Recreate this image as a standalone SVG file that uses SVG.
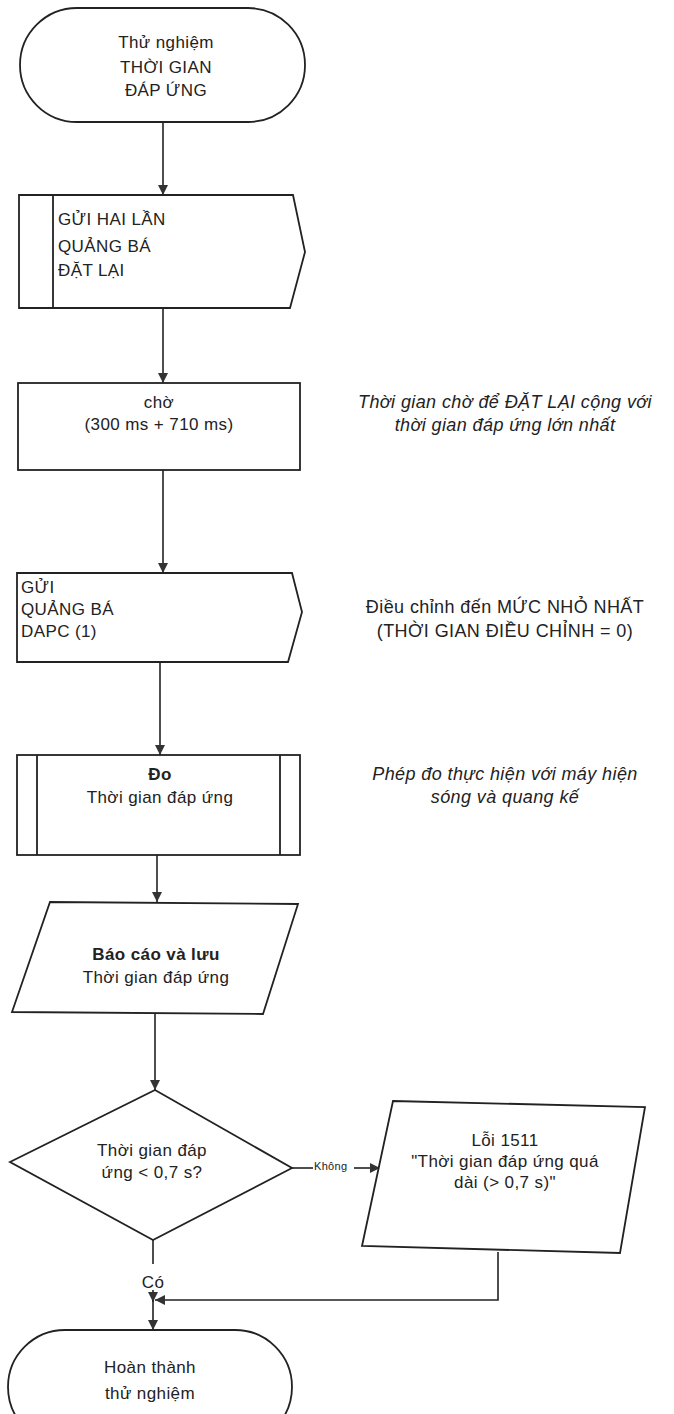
<svg xmlns="http://www.w3.org/2000/svg" width="674" height="1414" viewBox="0 0 674 1414">
<defs>
<marker id="arr" viewBox="0 0 10 10" refX="10" refY="5" markerWidth="10" markerHeight="10" markerUnits="userSpaceOnUse" orient="auto">
<path d="M0,0 L10,5 L0,10 Z" fill="#333"/>
</marker>
<style>
.s{fill:#fff;stroke:#222;stroke-width:1.8}
.l{fill:none;stroke:#222;stroke-width:1.8}
.c{fill:none;stroke:#222;stroke-width:1.6}
.t{font-family:"Liberation Sans",Arial,sans-serif;font-size:17px;fill:#222;letter-spacing:0.4px}
.m{text-anchor:middle}
.a{font-family:"Liberation Sans",Arial,sans-serif;font-size:18px;fill:#222;text-anchor:middle;letter-spacing:0.4px}
.i{font-style:italic}
.b{font-weight:bold}
.k{font-family:"Liberation Sans",Arial,sans-serif;font-size:11px;fill:#222;letter-spacing:0.3px}
</style>
</defs>
<rect width="674" height="1414" fill="#fff"/>
<g id="connectors">
<path class="c" d="M163,122 V195" marker-end="url(#arr)"/>
<path class="c" d="M163,308 V383" marker-end="url(#arr)"/>
<path class="c" d="M163,470 V573" marker-end="url(#arr)"/>
<path class="c" d="M160,662 V755" marker-end="url(#arr)"/>
<path class="c" d="M157,855 V902" marker-end="url(#arr)"/>
<path class="c" d="M155,1014 V1090" marker-end="url(#arr)"/>
<path class="c" d="M292,1168 H313"/>
<path class="c" d="M354,1168 H380" marker-end="url(#arr)"/>
<text class="k" x="314" y="1170">Không</text>
<path class="c" d="M153,1240 V1264"/>
<text class="t m" x="153" y="1288">Có</text>
<path class="c" d="M153,1294 V1300"/>
<path class="c" d="M153,1290 V1302" marker-end="url(#arr)"/>
<path class="c" d="M498,1252 V1300 H155" marker-end="url(#arr)"/>
<path class="c" d="M153,1300 V1330" marker-end="url(#arr)"/>
</g>
<g id="start">
<rect class="s" x="20" y="8" width="285" height="114" rx="57"/>
<text class="t m" x="166" y="48">Thử nghiệm</text>
<text class="t m" x="166" y="73">THỜI GIAN</text>
<text class="t m" x="166" y="96">ĐÁP ỨNG</text>
</g>
<g id="send-reset">
<path class="s" d="M19,195 H293 L305,252 L290,308 H19 Z"/>
<path class="l" d="M53,195 V308"/>
<text class="t" x="58" y="225">GỬI HAI LẦN</text>
<text class="t" x="58" y="252">QUẢNG BÁ</text>
<text class="t" x="58" y="276">ĐẶT LẠI</text>
</g>
<g id="wait">
<rect class="s" x="18" y="383" width="282" height="87"/>
<text class="t m" x="159" y="408">chờ</text>
<text class="t m" x="159" y="430">(300 ms + 710 ms)</text>
</g>
<g id="note-wait">
<text class="a i" x="505" y="408">Thời gian chờ để ĐẶT LẠI cộng với</text>
<text class="a i" x="505" y="431">thời gian đáp ứng lớn nhất</text>
</g>
<g id="send-dapc">
<path class="s" d="M17,573 H292 L302,612 L288,662 H17 Z"/>
<text class="t" x="21" y="593">GỬI</text>
<text class="t" x="21" y="615">QUẢNG BÁ</text>
<text class="t" x="21" y="637">DAPC (1)</text>
</g>
<g id="note-dapc">
<text class="a" x="505" y="613">Điều chỉnh đến MỨC NHỎ NHẤT</text>
<text class="a" x="505" y="637">(THỜI GIAN ĐIỀU CHỈNH = 0)</text>
</g>
<g id="measure">
<rect class="s" x="17" y="755" width="283" height="100"/>
<path class="l" d="M37,755 V855 M280,755 V855"/>
<text class="t m b" x="160" y="780">Đo</text>
<text class="t m" x="160" y="803">Thời gian đáp ứng</text>
</g>
<g id="note-measure">
<text class="a i" x="505" y="780">Phép đo thực hiện với máy hiện</text>
<text class="a i" x="505" y="803">sóng và quang kế</text>
</g>
<g id="report">
<path class="s" d="M50,902 L298,904 L263,1014 L12,1012 Z"/>
<text class="t m b" x="156" y="960">Báo cáo và lưu</text>
<text class="t m" x="156" y="983">Thời gian đáp ứng</text>
</g>
<g id="decision">
<path class="s" d="M155,1090 L292,1168 L153,1240 L10,1162 Z"/>
<text class="t m" x="152" y="1156">Thời gian đáp</text>
<text class="t m" x="152" y="1178">ứng &lt; 0,7 s?</text>
</g>
<g id="error">
<path class="s" d="M393,1101 L645,1107 L620,1253 L362,1246 Z"/>
<text class="t m" x="505" y="1146">Lỗi 1511</text>
<text class="t m" x="505" y="1167">"Thời gian đáp ứng quá</text>
<text class="t m" x="505" y="1188">dài (&gt; 0,7 s)"</text>
</g>
<g id="end">
<rect class="s" x="8" y="1330" width="284" height="114" rx="57"/>
<text class="t m" x="150" y="1373">Hoàn thành</text>
<text class="t m" x="150" y="1399">thử nghiệm</text>
</g>
</svg>
